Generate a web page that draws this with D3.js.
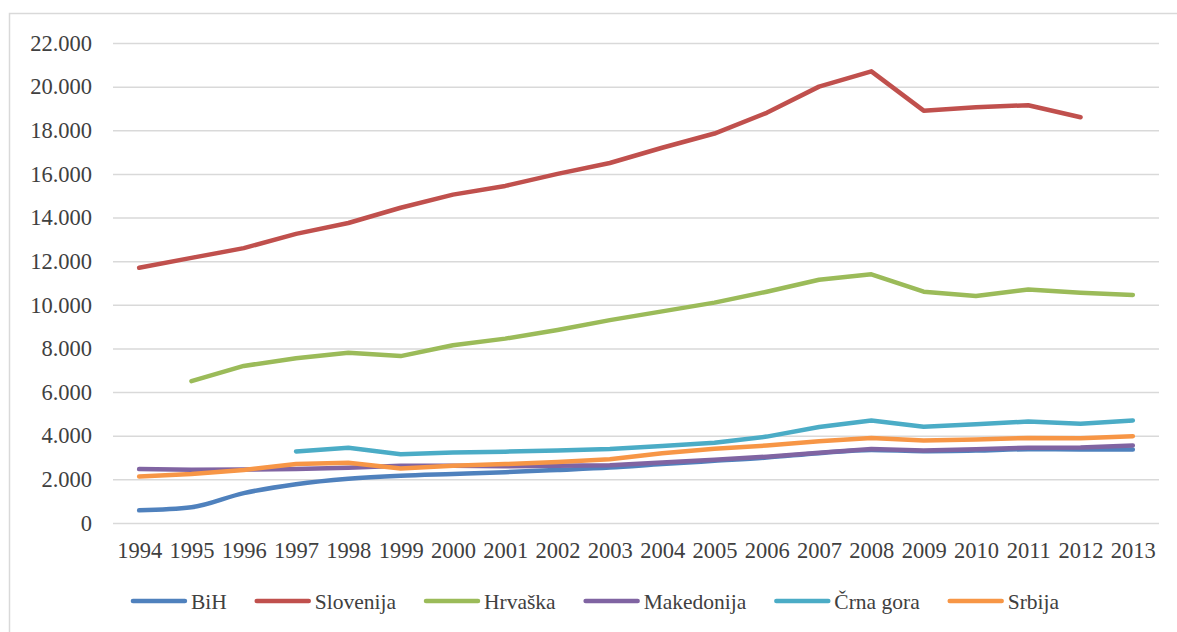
<!DOCTYPE html>
<html>
<head>
<meta charset="utf-8">
<script src="https://cdn.jsdelivr.net/npm/d3@7"></script>
<style>
  html, body { margin: 0; padding: 0; background: #ffffff; }
  svg { display: block; }
  svg text { font-family: 'Liberation Serif', 'Times New Roman', Times, 'DejaVu Serif', serif !important; fill: #404040; }
</style>
</head>
<body>
<svg id="chart" width="1177" height="632"></svg>
<script>
// ---- data ----
const years = ["1994","1995","1996","1997","1998","1999","2000","2001","2002","2003",
               "2004","2005","2006","2007","2008","2009","2010","2011","2012","2013"];
const yTicks = [0, 2000, 4000, 6000, 8000, 10000, 12000, 14000, 16000, 18000, 20000, 22000];

const seriesNames = ["BiH", "Slovenija", "Hrvaška", "Makedonija", "Črna gora", "Srbija"];
const seriesColors = ["#4F81BD", "#C0504D", "#9BBB59", "#8064A2", "#4BACC6", "#F79646"];

const bih        = [580, 720, 1370, 1780, 2030, 2170, 2250, 2330, 2430, 2540,
                    2700, 2850, 3000, 3200, 3350, 3290, 3320, 3380, 3370, 3370];
const slovenija  = [11700, 12150, 12600, 13250, 13750, 14450, 15050, 15450, 16000, 16500,
                    17200, 17850, 18800, 20000, 20700, 18900, 19050, 19150, 18600, null];
const hrvaska    = [null, 6500, 7200, 7550, 7800, 7650, 8150, 8450, 8850, 9300,
                    9700, 10100, 10600, 11150, 11400, 10600, 10400, 10700, 10550, 10450];
const makedonija = [2470, 2440, 2450, 2480, 2530, 2620, 2620, 2600, 2620, 2650,
                    2770, 2900, 3040, 3220, 3390, 3320, 3380, 3450, 3460, 3550];
const crnaGora   = [null, null, null, 3280, 3450, 3150, 3230, 3270, 3320, 3390,
                    3530, 3680, 3960, 4400, 4700, 4410, 4530, 4650, 4550, 4700];
const srbija     = [2130, 2250, 2430, 2700, 2760, 2500, 2620, 2700, 2800, 2920,
                    3200, 3400, 3550, 3750, 3900, 3780, 3830, 3900, 3880, 3980];

const seriesValues = [bih, slovenija, hrvaska, makedonija, crnaGora, srbija];
const smoothed = [true, false, false, false, false, false];

// ---- layout ----
const FONT = "'Liberation Serif', 'Times New Roman', Times, 'DejaVu Serif', serif";
const svg = d3.select("#chart");
const plot = { left: 113, right: 1159, top: 43, bottom: 523 };

const x = d3.scalePoint().domain(years).range([plot.left, plot.right]).padding(0.5);
const y = d3.scaleLinear().domain([0, 22000]).range([plot.bottom, plot.top]);

const locale = d3.formatLocale({ decimal: ",", thousands: ".", grouping: [3], currency: ["", ""] });
const fmt = locale.format(",d");

// outer chart border
svg.append("rect")
  .attr("x", 9.5).attr("y", 13.5)
  .attr("width", 1300).attr("height", 700)
  .attr("fill", "none").attr("stroke", "#d9d9d9").attr("stroke-width", 1.5);

// gridlines + y labels via axis
const yAxis = d3.axisLeft(y).tickValues(yTicks).tickFormat(fmt)
  .tickSize(-(plot.right - plot.left)).tickPadding(21);
const gy = svg.append("g").attr("transform", `translate(${plot.left},0)`).call(yAxis)
  .attr("font-family", FONT);
gy.select(".domain").remove();
gy.selectAll(".tick line").attr("stroke", "#d9d9d9").attr("stroke-width", 1.5);
gy.selectAll(".tick text")
  .attr("font-size", 22.5).attr("fill", "#404040").attr("font-family", FONT);

// x axis labels
const xAxis = d3.axisBottom(x).tickSize(0).tickPadding(19);
const gx = svg.append("g").attr("transform", `translate(0,${plot.bottom})`).call(xAxis)
  .attr("font-family", FONT);
gx.select(".domain").remove();
gx.selectAll(".tick text")
  .attr("font-size", 22.5).attr("fill", "#404040").attr("font-family", FONT);

// lines
seriesValues.forEach((vals, i) => {
  const pts = years.map((yr, j) => ({ yr, v: vals[j] }));
  const line = d3.line()
    .defined(d => d.v !== null && d.v !== undefined)
    .x(d => x(d.yr)).y(d => y(d.v))
    .curve(smoothed[i] ? d3.curveMonotoneX : d3.curveLinear);
  svg.append("path")
    .datum(pts)
    .attr("d", line)
    .attr("fill", "none")
    .attr("stroke", seriesColors[i])
    .attr("stroke-width", 4.5)
    .attr("stroke-linecap", "round")
    .attr("stroke-linejoin", "round");
});

// legend
const legendY = 601;
const lineLen = 52, textGap = 6, itemGap = 30;
const lg = svg.append("g").attr("font-family", FONT);
const items = seriesNames.map((name, i) => {
  const g = lg.append("g");
  g.append("line")
    .attr("x1", 0).attr("x2", lineLen).attr("y1", 0).attr("y2", 0)
    .attr("stroke", seriesColors[i]).attr("stroke-width", 4.5).attr("stroke-linecap", "round");
  const t = g.append("text")
    .attr("x", lineLen + textGap).attr("y", 0).attr("dy", "0.35em")
    .attr("font-size", 21.5).attr("font-family", FONT).text(name);
  return { g, w: lineLen + textGap + t.node().getComputedTextLength() };
});
const total = d3.sum(items, d => d.w) + itemGap * (items.length - 1);
let cx = 596 - total / 2;
items.forEach(it => {
  it.g.attr("transform", `translate(${cx},${legendY})`);
  cx += it.w + itemGap;
});
</script>
</body>
</html>
